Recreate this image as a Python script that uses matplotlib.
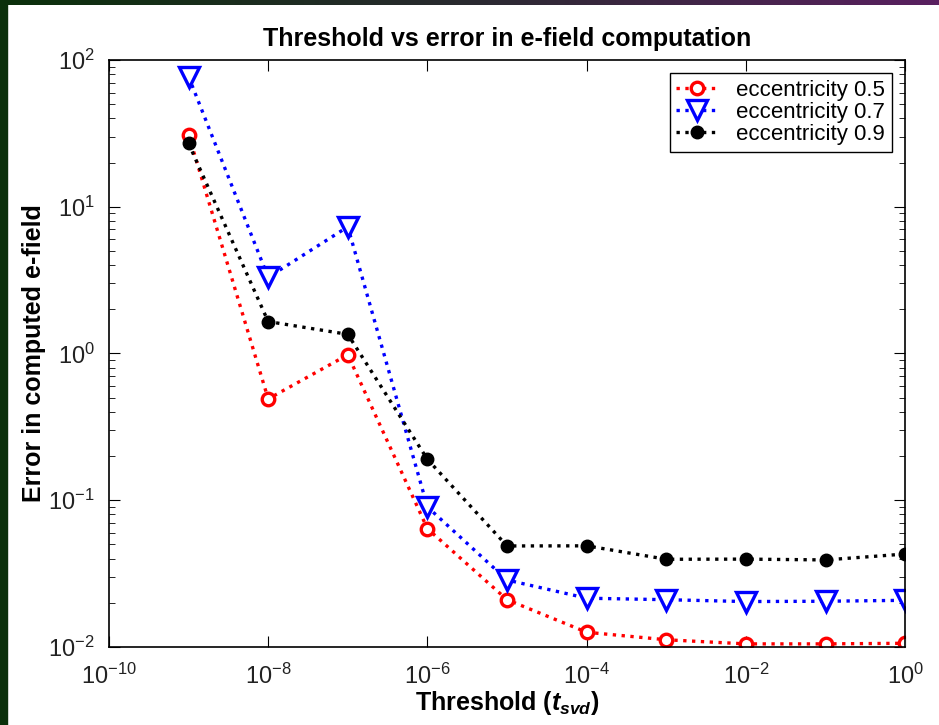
import numpy as np
import matplotlib
matplotlib.use("Agg")
import matplotlib.pyplot as plt
from matplotlib.patches import Rectangle
from matplotlib.ticker import LogLocator, NullLocator

plt.rcParams['font.family'] = ['Liberation Sans', 'DejaVu Sans']
plt.rcParams['mathtext.fontset'] = 'custom'
plt.rcParams['mathtext.rm'] = 'Liberation Sans'
plt.rcParams['mathtext.it'] = 'Liberation Sans:italic:bold'
plt.rcParams['mathtext.bf'] = 'Liberation Sans:bold'
plt.rcParams['axes.unicode_minus'] = False

# data
thresholds = [1e-9, 1e-8, 1e-7, 1e-6, 1e-5, 1e-4, 1e-3, 1e-2, 1e-1, 1e0]
err_05 = [31, 0.49, 0.98, 0.064, 0.021, 0.0126, 0.0112, 0.0105, 0.0105, 0.0106]
err_07 = [77, 3.3, 7.3, 0.090, 0.0286, 0.0215, 0.021, 0.0204, 0.0205, 0.0208]
err_09 = [27, 1.65, 1.35, 0.19, 0.0488, 0.0489, 0.0396, 0.0397, 0.0392, 0.043]
labels = ['eccentricity 0.5', 'eccentricity 0.7', 'eccentricity 0.9']

fig = plt.figure(figsize=(9.39, 7.25), dpi=100)
ax = fig.add_axes([0.116, 0.1076, 0.848, 0.8097])

# dark frame strips from the slide
fig.patches.append(Rectangle((0, 0), 7 / 939, 1, transform=fig.transFigure,
                             color='#0b300b', zorder=-1))
grad = np.linspace(0, 1, 256).reshape(1, -1)
strip = fig.add_axes([0, 1 - 5 / 725, 1, 5 / 725])
strip.imshow(grad, aspect='auto',
             cmap=matplotlib.colors.LinearSegmentedColormap.from_list(
                 'g', ['#0b300b', '#2a2a30', '#5a2060']))
strip.axis('off')

lw = 2.4
ax.plot(thresholds, err_05, ':', color='red', lw=lw, marker='o', ms=9,
        mfc='white', mec='red', mew=2.4, label=labels[0])
ax.plot(thresholds, err_07, ':', color='blue', lw=lw, marker='v', ms=14,
        mfc='white', mec='blue', mew=2.4, label=labels[1])
ax.plot(thresholds, err_09, ':', color='black', lw=lw, marker='o', ms=9,
        mfc='black', mec='black', label=labels[2])

ax.set_xscale('log')
ax.set_yscale('log')
ax.set_xlim(1e-10, 1e0)
ax.set_ylim(1e-2, 1e2)
ax.set_xticks([1e-10, 1e-8, 1e-6, 1e-4, 1e-2, 1e0])
ax.xaxis.set_minor_locator(NullLocator())
ax.yaxis.set_major_locator(LogLocator(base=10, numticks=10))
ax.yaxis.set_minor_locator(LogLocator(base=10, subs=np.arange(2, 10), numticks=10))
ax.tick_params(which='both', direction='in', top=True, right=True,
               labelsize=17, color='black', labelcolor='#222222')
ax.tick_params(which='major', length=8)
ax.tick_params(which='minor', length=4)
ax.tick_params(axis='x', pad=12)
ax.tick_params(axis='y', pad=10)
for s in ax.spines.values():
    s.set_linewidth(1.2)

ax.set_title('Threshold vs error in e-field computation', fontsize=18,
             fontweight='bold', pad=10)
ax.set_xlabel(r'Threshold ($t_{svd}$)', fontsize=18, fontweight='bold',
              labelpad=0)
ax.set_ylabel('Error in computed e-field', fontsize=18, fontweight='bold',
              labelpad=2)

leg = ax.legend(loc='upper right', fontsize=16, fancybox=False, framealpha=1,
                edgecolor='black', handlelength=1.9, borderpad=0.3,
                labelspacing=0.05, borderaxespad=0.6, handletextpad=0.8)
leg.get_frame().set_linewidth(1.0)

fig.savefig('out.png', dpi=100, facecolor='white')
